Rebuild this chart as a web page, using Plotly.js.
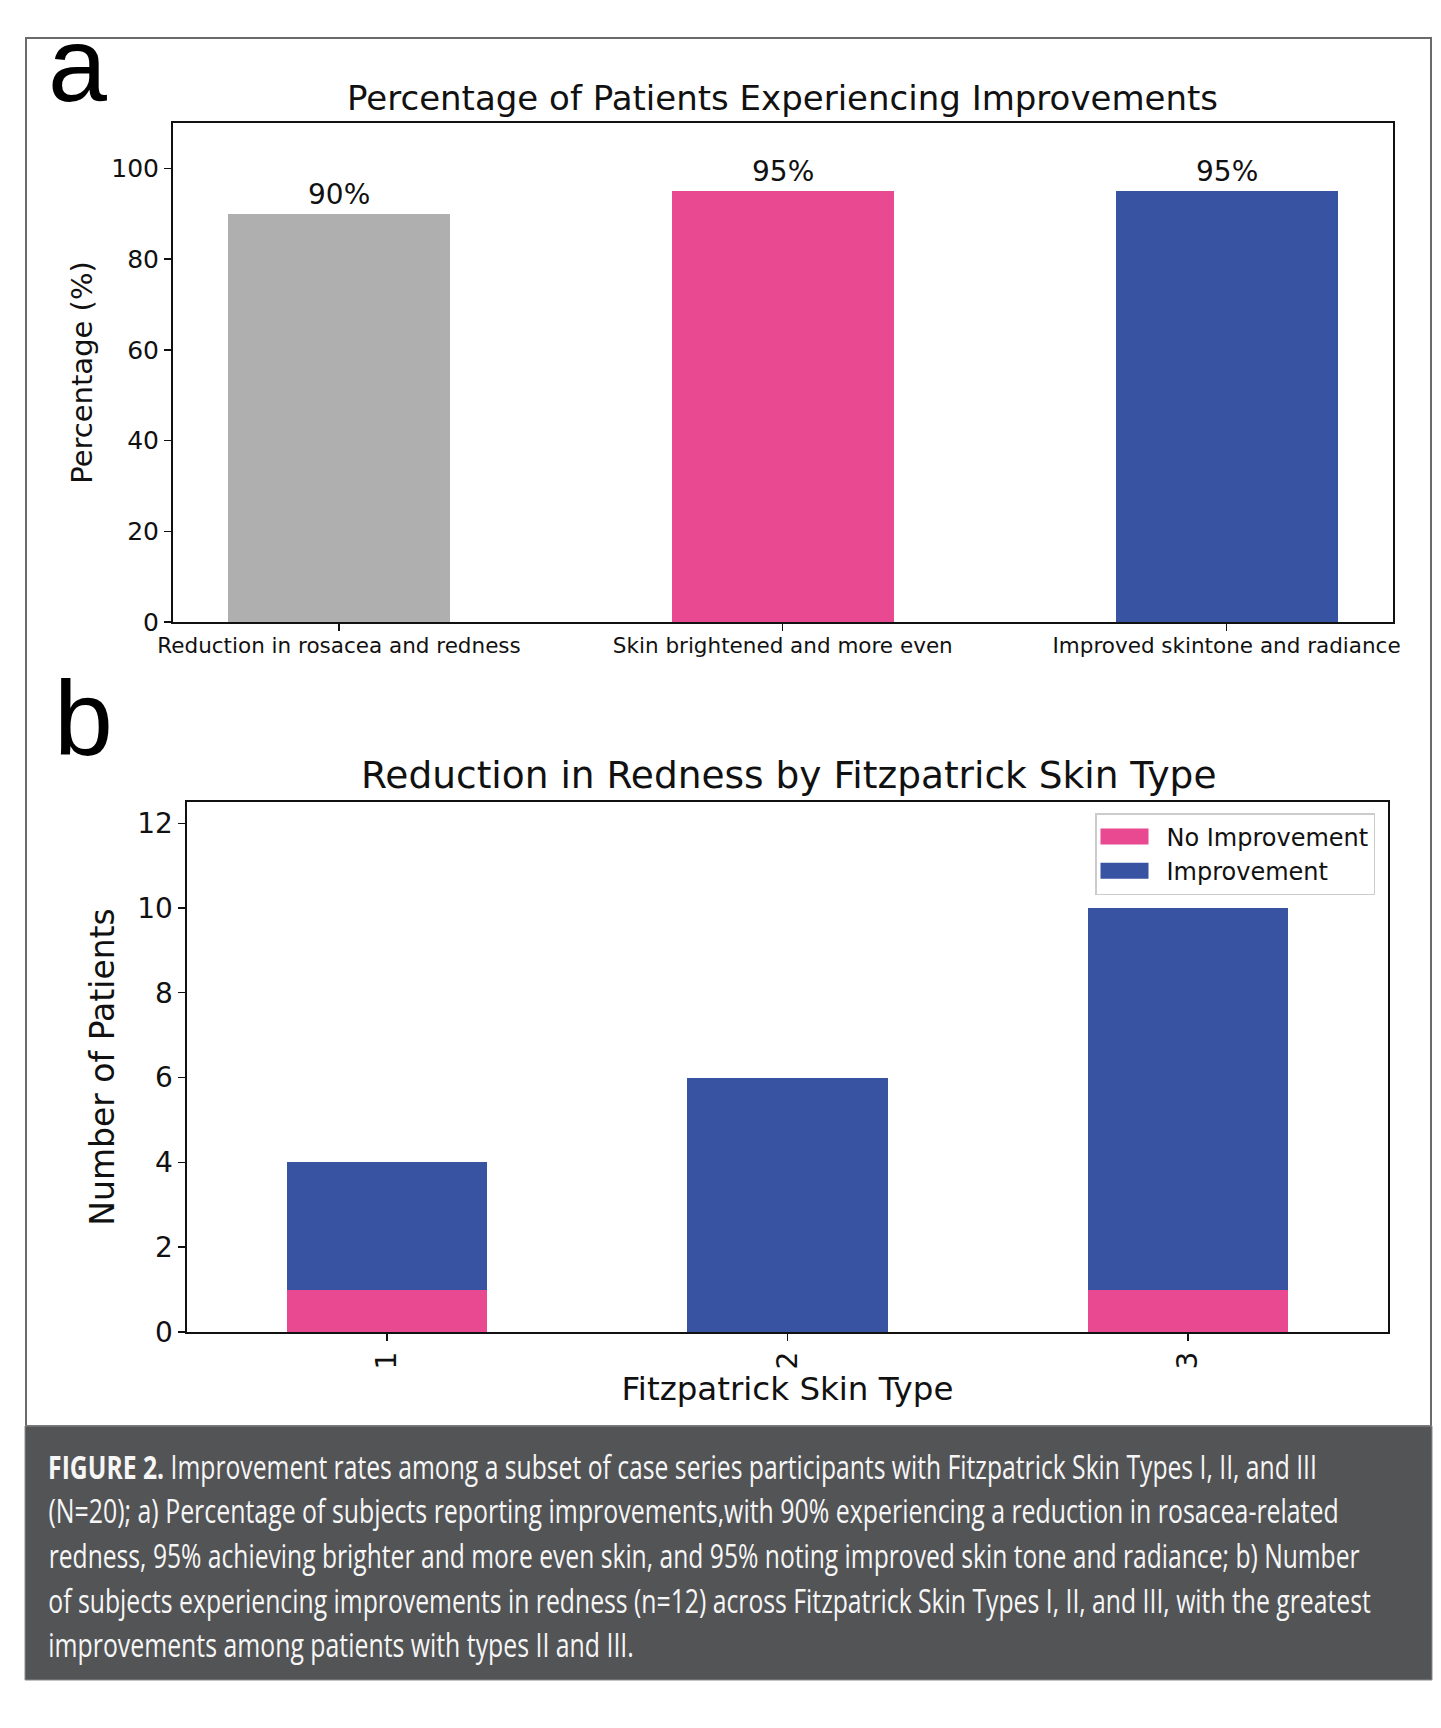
<!DOCTYPE html>
<html>
<head>
<meta charset="utf-8">
<script src="https://cdn.plot.ly/plotly-3.0.1.min.js"></script>
<style>
  html, body { margin: 0; padding: 0; background: #ffffff; }
  #chart { width: 1441px; height: 1728px; }
</style>
</head>
<body>
<div id="chart"></div>
<script>
// ---------- data ----------
const improvementCategories = ["Reduction in rosacea and redness", "Skin brightened and more even", "Improved skintone and radiance"];
const improvementPercent = [90, 95, 95];
const improvementLabels = ["90%", "95%", "95%"];
const improvementColors = ["#afafaf", "#e84991", "#3953a3"];

const skinTypes = ["1", "2", "3"];
const noImprovementCounts = [1, 0, 1];
const improvementCounts = [3, 6, 9];

const panelATitle = "Percentage of Patients Experiencing Improvements";
const panelBTitle = "Reduction in Redness by Fitzpatrick Skin Type";
const panelAYTitle = "Percentage (%)";
const panelBYTitle = "Number of Patients";
const panelBXTitle = "Fitzpatrick Skin Type";
const seriesNames = ["No Improvement", "Improvement"];
const panelLetters = ["a", "b"];

const captionLines = [
  "<b>FIGURE 2.</b> Improvement rates among a subset of case series participants with Fitzpatrick Skin Types I, II, and III",
  "(N=20); a) Percentage of subjects reporting improvements,with 90% experiencing a reduction in rosacea-related",
  "redness, 95% achieving brighter and more even skin, and 95% noting improved skin tone and radiance; b) Number",
  "of subjects experiencing improvements in redness (n=12) across Fitzpatrick Skin Types I, II, and III, with the greatest",
  "improvements among patients with types II and III."
];

// ---------- geometry helpers (pixel -> paper) ----------
const W = 1441, H = 1728;
const px = x => x / W;
const py = y => 1 - y / H;

const FONT = "DejaVu Sans, Verdana, sans-serif";
const CAPTION_FONT = "Open Sans, Noto Sans, sans-serif";
const PINK = "#e84991", BLUE = "#3953a3";

const traces = [
  {
    type: "bar", x: improvementCategories, y: improvementPercent,
    marker: { color: improvementColors }, width: 0.5,
    xaxis: "x", yaxis: "y", showlegend: false, hoverinfo: "skip"
  },
  {
    type: "bar", x: skinTypes, y: noImprovementCounts, name: seriesNames[0],
    marker: { color: PINK }, width: 0.5, xaxis: "x2", yaxis: "y2"
  },
  {
    type: "bar", x: skinTypes, y: improvementCounts, name: seriesNames[1],
    marker: { color: BLUE }, width: 0.5, xaxis: "x2", yaxis: "y2"
  }
];

const axisCommon = {
  showline: true, mirror: true, linecolor: "#111", linewidth: 1.6,
  ticks: "outside", ticklen: 7, tickwidth: 1.4, tickcolor: "#111",
  showgrid: false, zeroline: false, fixedrange: true
};

const annotations = [];
// panel titles
annotations.push({ text: panelATitle, xref: "paper", yref: "paper", x: px(782), y: py(98),
  xanchor: "center", yanchor: "middle", showarrow: false, font: { family: FONT, size: 34, color: "#111" } });
annotations.push({ text: panelBTitle, xref: "paper", yref: "paper", x: px(788), y: py(775),
  xanchor: "center", yanchor: "middle", showarrow: false, font: { family: FONT, size: 37.5, color: "#111" } });
// panel letters
annotations.push({ text: panelLetters[0], xref: "paper", yref: "paper", x: px(46), y: py(64),
  xanchor: "left", yanchor: "middle", showarrow: false, font: { family: "Liberation Sans, Arial, sans-serif", size: 106, color: "#000" } });
annotations.push({ text: panelLetters[1], xref: "paper", yref: "paper", x: px(52), y: py(718),
  xanchor: "left", yanchor: "middle", showarrow: false, font: { family: "Liberation Sans, Arial, sans-serif", size: 106, color: "#000" } });
// value labels on bars (panel a)
improvementCategories.forEach((c, i) => {
  annotations.push({ text: improvementLabels[i], xref: "x", yref: "y", x: c, y: improvementPercent[i],
    xanchor: "center", yanchor: "bottom", yshift: 1, showarrow: false,
    font: { family: FONT, size: 28, color: "#111" } });
});
// caption lines
const CAPTION_START = annotations.length;
const captionY = [1466, 1510, 1555, 1600, 1644];
const captionLeft = 46;
const captionRight = [1315, 1337, 1358, 1369, 632];
captionLines.forEach((t, i) => {
  annotations.push({ text: t, xref: "paper", yref: "paper", x: px(captionLeft), y: py(captionY[i]),
    xanchor: "left", yanchor: "middle", showarrow: false,
    font: { family: CAPTION_FONT, size: 32, color: "#f6f6f6" } });
});

const shapes = [
  // outer figure frame
  { type: "rect", xref: "paper", yref: "paper", x0: px(26), x1: px(1431), y0: py(1426), y1: py(38),
    line: { color: "#6a6a6a", width: 2 }, fillcolor: "rgba(0,0,0,0)", layer: "below" },
  // caption box
  { type: "rect", xref: "paper", yref: "paper", x0: px(25), x1: px(1432), y0: py(1680), y1: py(1426),
    line: { color: "#8a8a8a", width: 1 }, fillcolor: "#535456", layer: "below" }
];

const layout = {
  width: W, height: H,
  margin: { l: 0, r: 0, t: 0, b: 0 },
  paper_bgcolor: "#ffffff", plot_bgcolor: "#ffffff",
  barmode: "stack",
  showlegend: true,
  font: { family: FONT, color: "#111" },
  xaxis: Object.assign({}, axisCommon, {
    domain: [px(172.6), px(1393)], anchor: "y", type: "category", range: [-0.375, 2.375],
    ticklabelstandoff: -3,
    tickfont: { family: FONT, size: 21.5, color: "#111" }
  }),
  yaxis: Object.assign({}, axisCommon, {
    domain: [py(622), py(123)], anchor: "x", range: [0, 110], tickmode: "array",
    tickvals: [0, 20, 40, 60, 80, 100],
    tickfont: { family: FONT, size: 25, color: "#111" },
    title: { text: panelAYTitle, font: { family: FONT, size: 29, color: "#111" }, standoff: 10 }
  }),
  xaxis2: Object.assign({}, axisCommon, {
    domain: [px(187), px(1388)], anchor: "y2", type: "category", range: [-0.5, 2.5],
    tickangle: -90,
    tickfont: { family: FONT, size: 28, color: "#111" },
    title: { text: panelBXTitle, font: { family: FONT, size: 32.5, color: "#111" }, standoff: 6 }
  }),
  yaxis2: Object.assign({}, axisCommon, {
    domain: [py(1332), py(802)], anchor: "x2", range: [0, 12.5], tickmode: "array",
    tickvals: [0, 2, 4, 6, 8, 10, 12],
    tickfont: { family: FONT, size: 28, color: "#111" },
    title: { text: panelBYTitle, font: { family: FONT, size: 33, color: "#111" }, standoff: 12 }
  }),
  legend: {
    x: px(1375), y: py(813), xanchor: "right", yanchor: "top",
    traceorder: "normal", bgcolor: "#ffffff", bordercolor: "#cccccc", borderwidth: 1.5,
    font: { family: FONT, size: 24, color: "#111" }, itemwidth: 60
  },
  annotations: annotations,
  shapes: shapes
};

Plotly.newPlot("chart", traces, layout, { displayModeBar: false, staticPlot: true }).then(gd => {
  // widen the legend swatches to matplotlib-style rectangles
  try {
    gd.querySelectorAll(".legend .traces .legendpoints path").forEach(p => {
      p.setAttribute("d", "M-31,8H17V-8H-31Z");
    });
  } catch (e) {}
  // condense caption lines horizontally to the narrow typeface width of the original
  try {
    captionLines.forEach((t, i) => {
      const el = gd.querySelector('.annotation[data-index="' + (CAPTION_START + i) + '"] text');
      if (!el) return;
      const w = el.getBBox().width;
      const target = captionRight[i] - captionLeft;
      if (w > 0) {
        el.style.transformBox = "fill-box";
        el.style.transformOrigin = "0% 50%";
        el.style.transform = "scaleX(" + (target / w) + ")";
      }
    });
  } catch (e) {}
});
</script>
</body>
</html>
